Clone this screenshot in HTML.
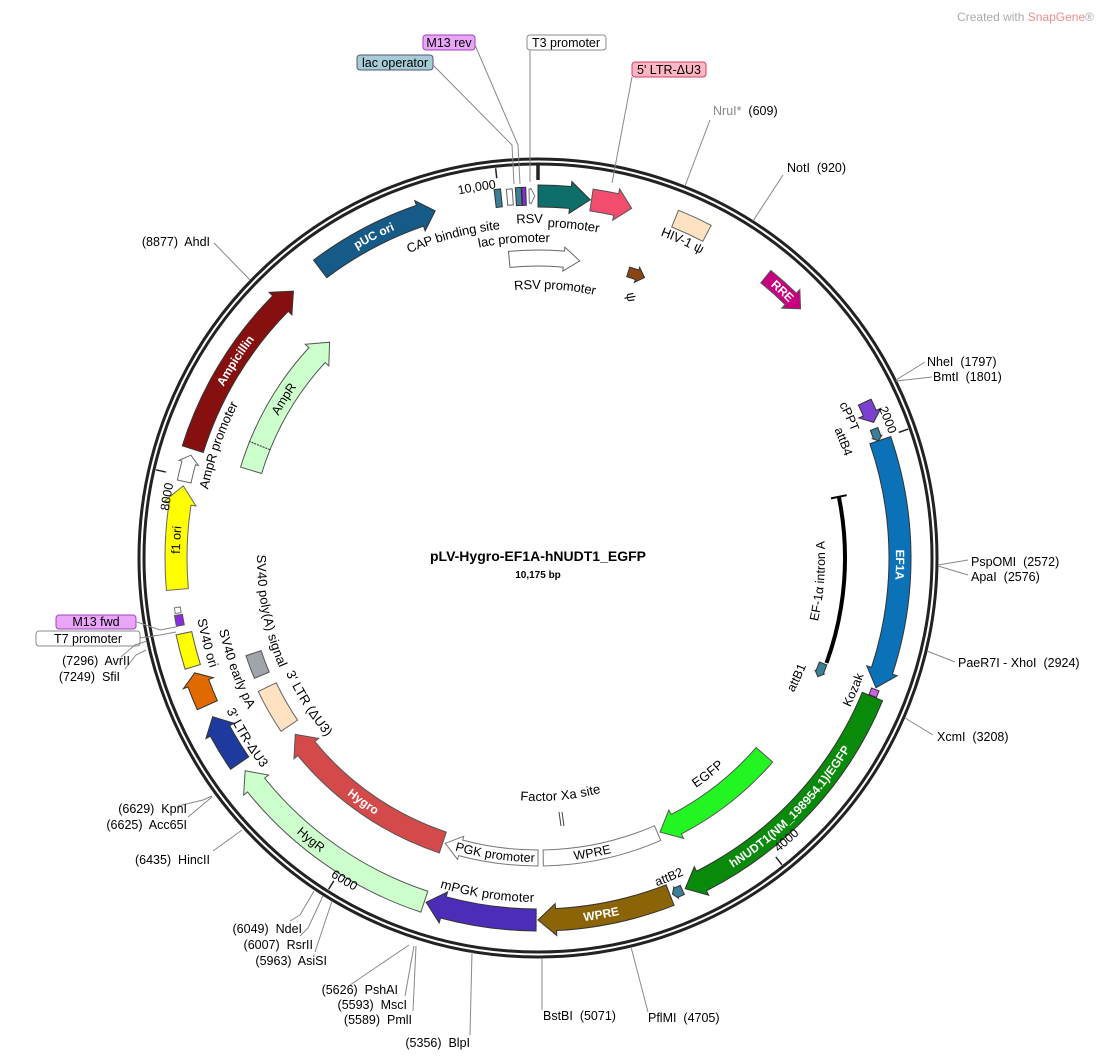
<!DOCTYPE html>
<html><head><meta charset="utf-8"><style>
html,body{margin:0;padding:0;background:#fff;}
svg{display:block;font-family:"Liberation Sans",Arial,sans-serif;}
.e{font-size:12.5px;fill:#000;white-space:pre;}
.f{font-size:13px;fill:#000;}
.w{font-size:12px;fill:#fff;font-weight:bold;}
.ln{stroke:#888;stroke-width:1;fill:none;}
</style></head><body>
<svg id="s" width="1104" height="1062" viewBox="0 0 1104 1062" xmlns="http://www.w3.org/2000/svg">
<defs>
<path id="cw362" d="M538,920 A362,362 0 1 1 538,196 A362,362 0 1 1 538,920"/>
<path id="ccw362" d="M538,196 A362,362 0 1 0 538,920 A362,362 0 1 0 538,196"/>
<path id="cw300" d="M538,858 A300,300 0 1 1 538,258 A300,300 0 1 1 538,858"/>
<path id="ccw300" d="M538,258 A300,300 0 1 0 538,858 A300,300 0 1 0 538,258"/>
<path id="cw336" d="M538,894 A336,336 0 1 1 538,222 A336,336 0 1 1 538,894"/>
<path id="cw321" d="M538,879 A321,321 0 1 1 538,237 A321,321 0 1 1 538,879"/>
<path id="cw340" d="M538,898 A340,340 0 1 1 538,218 A340,340 0 1 1 538,898"/>
<path id="cw350" d="M538,908 A350,350 0 1 1 538,208 A350,350 0 1 1 538,908"/>
<path id="cw274" d="M538,832 A274,274 0 1 1 538,284 A274,274 0 1 1 538,832"/>
<path id="ccw339" d="M538,219 A339,339 0 1 0 538,897 A339,339 0 1 0 538,219"/>
<path id="ccw274" d="M538,284 A274,274 0 1 0 538,832 A274,274 0 1 0 538,284"/>
<path id="cw342" d="M538,900 A342,342 0 1 1 538,216 A342,342 0 1 1 538,900"/>
<path id="ccw238" d="M538,320 A238,238 0 1 0 538,796 A238,238 0 1 0 538,320"/>
<path id="ccw272" d="M538,286 A272,272 0 1 0 538,830 A272,272 0 1 0 538,286"/>
<path id="ccw276" d="M538,282 A276,276 0 1 0 538,834 A276,276 0 1 0 538,282"/>
<path id="ccw341" d="M538,217 A341,341 0 1 0 538,899 A341,341 0 1 0 538,217"/>
<path id="ccw322" d="M538,236 A322,322 0 1 0 538,880 A322,322 0 1 0 538,236"/>
<path id="ccw342" d="M538,216 A342,342 0 1 0 538,900 A342,342 0 1 0 538,216"/>
<path id="cw327" d="M538,885 A327,327 0 1 1 538,231 A327,327 0 1 1 538,885"/>
<path id="ccw285" d="M538,273 A285,285 0 1 0 538,843 A285,285 0 1 0 538,273"/>
<path id="ccw283" d="M538,275 A283,283 0 1 0 538,841 A283,283 0 1 0 538,275"/>
<path id="ccw345" d="M538,213 A345,345 0 1 0 538,903 A345,345 0 1 0 538,213"/>
<path id="cw376" d="M538,934 A376,376 0 1 1 538,182 A376,376 0 1 1 538,934"/>
<path id="ccw376" d="M538,182 A376,376 0 1 0 538,934 A376,376 0 1 0 538,182"/>
</defs>

<g id="shapes"></g>

<circle cx="538" cy="558" r="399" fill="none" stroke="#222" stroke-width="3"/>
<circle cx="538" cy="558" r="394" fill="none" stroke="#222" stroke-width="3"/>

<text x="1094" y="21" text-anchor="end" style="font-size:12px;fill:#aaa">Created with <tspan fill="#f08c8c">SnapGene</tspan>®</text>

<text x="538" y="561" text-anchor="middle" style="font-size:14px;font-weight:bold">pLV-Hygro-EF1A-hNUDT1_EGFP</text>
<text x="538" y="578" text-anchor="middle" style="font-size:10px;font-weight:bold">10,175 bp</text>

<!-- top boxes -->
<rect x="423" y="35" width="52" height="15" rx="3" fill="#e9a6f7" stroke="#a040c0"/>
<text x="449" y="47" text-anchor="middle" class="e">M13 rev</text>
<rect x="527" y="35" width="79" height="15" rx="3" fill="#fff" stroke="#888"/>
<text x="566" y="47" text-anchor="middle" class="e">T3 promoter</text>
<rect x="357" y="55" width="76" height="15" rx="3" fill="#a6ccd6" stroke="#557"/>
<text x="395" y="67" text-anchor="middle" class="e">lac operator</text>
<rect x="632" y="62" width="74" height="15" rx="3" fill="#ffb6c4" stroke="#d04060"/>
<text x="669" y="74" text-anchor="middle" class="e">5' LTR-ΔU3</text>
<polyline class="ln" points="475,45 518,145 520,184"/>
<polyline class="ln" points="433,65 512,145 514,184"/>
<polyline class="ln" points="530,50 530,182"/>
<polyline class="ln" points="632,77 612,183"/>

<rect x="56" y="615" width="80" height="14" rx="3" fill="#e9a6f7" stroke="#a040c0"/>
<text x="96" y="626" text-anchor="middle" class="e">M13 fwd</text>
<rect x="36" y="631" width="104" height="15" rx="3" fill="#fff" stroke="#888"/>
<text x="88" y="643" text-anchor="middle" class="e">T7 promoter</text>
<polyline class="ln" points="137,622 160,630 176,627"/>
<polyline class="ln" points="140,638 160,635 176,632"/>

<!-- enzymes -->
<polyline class="ln" points="685,186 710,120"/>
<text x="713" y="115" class="e"><tspan fill="#888">NruI*</tspan>  (609)</text>
<polyline class="ln" points="753,221 783,175"/>
<text x="787" y="172" class="e">NotI  (920)</text>
<polyline class="ln" points="896,380 925,362"/><polyline class="ln" points="896,381 932,377"/>
<text x="927" y="366" class="e">NheI  (1797)</text>
<text x="933" y="381" class="e">BmtI  (1801)</text>
<polyline class="ln" points="938,565 968,560"/><polyline class="ln" points="938,566 968,575"/>
<text x="971" y="566" class="e">PspOMI  (2572)</text>
<text x="971" y="581" class="e">ApaI  (2576)</text>
<polyline class="ln" points="927,651 955,662"/>
<text x="958" y="667" class="e">PaeR7I - XhoI  (2924)</text>
<polyline class="ln" points="905,718 933,735"/>
<text x="937" y="741" class="e">XcmI  (3208)</text>
<polyline class="ln" points="631,947 648,1012"/>
<text x="648" y="1022" class="e">PflMI  (4705)</text>
<polyline class="ln" points="542,958 542,1010"/>
<text x="543" y="1020" class="e">BstBI  (5071)</text>
<polyline class="ln" points="472,952 470,1035"/>
<text x="470" y="1047" text-anchor="end" class="e">(5356)  BlpI</text>
<polyline class="ln" points="416,946 413,1011"/>
<polyline class="ln" points="414,946 405,996"/>
<polyline class="ln" points="409,945 350,985"/>
<text x="412" y="1024" text-anchor="end" class="e">(5589)  PmlI</text>
<text x="407" y="1009" text-anchor="end" class="e">(5593)  MscI</text>
<text x="398" y="994" text-anchor="end" class="e">(5626)  PshAI</text>
<polyline class="ln" points="332,901 315,952"/>
<polyline class="ln" points="323,896 308,928 300,936"/>
<polyline class="ln" points="314,891 300,915 290,921"/>
<text x="327" y="965" text-anchor="end" class="e">(5963)  AsiSI</text>
<text x="313" y="949" text-anchor="end" class="e">(6007)  RsrII</text>
<text x="302" y="933" text-anchor="end" class="e">(6049)  NdeI</text>
<polyline class="ln" points="242,830 213,851"/>
<text x="210" y="864" text-anchor="end" class="e">(6435)  HincII</text>
<polyline class="ln" points="212,796 203,800 178,806"/><polyline class="ln" points="212,797 188,817"/>
<text x="187" y="813" text-anchor="end" class="e">(6629)  KpnI</text>
<text x="187" y="829" text-anchor="end" class="e">(6625)  Acc65I</text>
<polyline class="ln" points="147,641 135,645 121,657"/><polyline class="ln" points="146,650 136,655 125,669"/>
<text x="130" y="665" text-anchor="end" class="e">(7296)  AvrII</text>
<text x="120" y="681" text-anchor="end" class="e">(7249)  SfiI</text>
<polyline class="ln" points="250,280 214,243"/>
<text x="210" y="246" text-anchor="end" class="e">(8877)  AhdI</text>

<!-- arrow labels -->
<text class="w" dominant-baseline="central"><textPath href="#cw362" startOffset="42.5%" text-anchor="middle">pUC ori</textPath></text>
<text class="w" dominant-baseline="central"><textPath href="#cw362" startOffset="34.2%" text-anchor="middle">Ampicillin</textPath></text>
<text class="e" dominant-baseline="central"><textPath href="#cw362" startOffset="25.8%" text-anchor="middle">f1 ori</textPath></text>
<text class="w" dominant-baseline="central"><textPath href="#cw362" startOffset="75.3%" text-anchor="middle">EF1A</textPath></text>
<text class="w" dominant-baseline="central"><textPath href="#cw362" startOffset="61.8%" text-anchor="middle">RRE</textPath></text>
<text class="w" dominant-baseline="central"><textPath href="#ccw362" startOffset="62.6%" text-anchor="middle">hNUDT1(NM_198954.1)/EGFP</textPath></text>
<text class="w" dominant-baseline="central"><textPath href="#ccw362" startOffset="52.8%" text-anchor="middle">WPRE</textPath></text>
<text class="e" dominant-baseline="central"><textPath href="#ccw362" startOffset="39.2%" text-anchor="middle">HygR</textPath></text>
<text class="e" dominant-baseline="central"><textPath href="#cw300" startOffset="33.9%" text-anchor="middle">AmpR</textPath></text>
<text class="w" dominant-baseline="central"><textPath href="#ccw300" startOffset="40.1%" text-anchor="middle">Hygro</textPath></text>
<text class="e" dominant-baseline="central"><textPath href="#ccw300" startOffset="47.7%" text-anchor="middle">PGK promoter</textPath></text>
<text class="e" dominant-baseline="central"><textPath href="#ccw300" startOffset="52.9%" text-anchor="middle">WPRE</textPath></text>

<!-- outside labels -->
<text class="f" dominant-baseline="central"><textPath href="#cw336" startOffset="45.9%" text-anchor="middle">CAP binding site</textPath></text>
<text class="f" dominant-baseline="central"><textPath href="#cw321" startOffset="48.8%" text-anchor="middle">lac promoter</textPath></text>
<text class="f" dominant-baseline="central"><textPath href="#cw340" startOffset="49.6%" text-anchor="middle">RSV</textPath></text>
<text class="f" dominant-baseline="central"><textPath href="#cw336" startOffset="51.7%" text-anchor="middle">promoter</textPath></text>
<text class="f" dominant-baseline="central"><textPath href="#cw350" startOffset="56.8%" text-anchor="middle">HIV-1  ψ</textPath></text>
<text class="f" dominant-baseline="central"><textPath href="#cw274" startOffset="51%" text-anchor="middle">RSV promoter</textPath></text>
<text x="632" y="302" class="f" text-anchor="middle" transform="rotate(80 632 297)">ψ</text>
<text class="f" dominant-baseline="central"><textPath href="#ccw339" startOffset="47.6%" text-anchor="middle">mPGK promoter</textPath></text>
<text class="f" dominant-baseline="central"><textPath href="#ccw274" startOffset="60.6%" text-anchor="middle">EGFP</textPath></text>
<text class="f" dominant-baseline="central"><textPath href="#cw342" startOffset="30.4%" text-anchor="middle">AmpR promoter</textPath></text>
<text class="f" dominant-baseline="central"><textPath href="#ccw238" startOffset="51.5%" text-anchor="middle">Factor Xa site</textPath></text>
<text class="f" dominant-baseline="central"><textPath href="#ccw272" startOffset="34%" text-anchor="middle">3' LTR (ΔU3)</textPath></text>
<text class="f" dominant-baseline="central"><textPath href="#ccw276" startOffset="28.1%" text-anchor="middle">SV40 poly(A) signal</textPath></text>
<text class="f" dominant-baseline="central"><textPath href="#ccw341" startOffset="29%" text-anchor="middle">SV40 ori</textPath></text>
<text class="f" dominant-baseline="central"><textPath href="#ccw322" startOffset="30.6%" text-anchor="middle">SV40 early pA</textPath></text>
<text class="f" dominant-baseline="central"><textPath href="#ccw342" startOffset="33.8%" text-anchor="middle">3' LTR-ΔU3</textPath></text>
<text class="e" dominant-baseline="central"><textPath href="#cw342" startOffset="68.2%" text-anchor="middle">cPPT</textPath></text>
<text class="e" dominant-baseline="central"><textPath href="#cw327" startOffset="69.2%" text-anchor="middle">attB4</textPath></text>
<text class="e" dominant-baseline="central"><textPath href="#ccw342" startOffset="68.7%" text-anchor="middle">Kozak</textPath></text>
<text class="e" dominant-baseline="central"><textPath href="#ccw285" startOffset="68.1%" text-anchor="middle">attB1</textPath></text>
<text class="e" dominant-baseline="central"><textPath href="#ccw283" startOffset="73.7%" text-anchor="middle">EF-1α intron A</textPath></text>
<text class="e" dominant-baseline="central"><textPath href="#ccw345" startOffset="56.2%" text-anchor="middle">attB2</textPath></text>

<!-- tick labels -->
<text class="e" dominant-baseline="central"><textPath href="#cw376" startOffset="48.2%" text-anchor="end">10,000</textPath></text>
<text class="e" dominant-baseline="central"><textPath href="#cw376" startOffset="69.6%" text-anchor="end">2000</textPath></text>
<text class="e" dominant-baseline="central"><textPath href="#ccw376" startOffset="60.9%" text-anchor="start">4000</textPath></text>
<text class="e" dominant-baseline="central"><textPath href="#ccw376" startOffset="40.8%" text-anchor="start">6000</textPath></text>
<text class="e" dominant-baseline="central"><textPath href="#cw376" startOffset="28.2%" text-anchor="end">8000</textPath></text>

<script>
(function(){
const cx=538,cy=558,NS="http://www.w3.org/2000/svg";
const g=document.getElementById("shapes");
function P(a,r){const t=a*Math.PI/180;return (cx+r*Math.sin(t)).toFixed(2)+","+(cy-r*Math.cos(t)).toFixed(2);}
function arc(a1,a2,r){const p=P(a2,r);const l=Math.abs(a2-a1)>180?1:0;const s=a2>a1?1:0;return "A"+r+","+r+" 0 "+l+" "+s+" "+p;}
function add(tag,at){const e=document.createElementNS(NS,tag);for(const k in at)e.setAttribute(k,at[k]);g.appendChild(e);return e;}
function feat(a1,a2,r,w,dir,fill,stroke,hl,ex){
 hl=hl||16;ex=(ex===undefined)?5:ex;const h=hl/r*180/Math.PI,ro=r+w/2,ri=r-w/2;let d;
 if(dir===1){const b=Math.max(a1,a2-h);
  d="M"+P(a1,ro)+" "+arc(a1,b,ro)+" L"+P(b,ro+ex)+" L"+P(a2,r)+" L"+P(b,ri-ex)+" L"+P(b,ri)+" "+arc(b,a1,ri)+" Z";}
 else{d="M"+P(a1,ro)+" "+arc(a1,a2,ro)+" L"+P(a2,ri)+" "+arc(a2,a1,ri)+" Z";}
 add("path",{d:d,fill:fill,stroke:stroke||"#555","stroke-width":1});
}
[[353.8,382,392,1.5],[70.8,382,392,1.5],[141.5,382,392,1.5],[212.3,382,392,1.5],[283,382,392,1.5],[0,378,393,3.5]].forEach(t=>{
 add("path",{d:"M"+P(t[0],t[1])+" L"+P(t[0],t[2]),stroke:"#222","stroke-width":t[3]});});
const R=362,W=22;
feat(-37,-16.5,R,W,1,"#165a88","#333");
feat(-6.8,-5.8,R,18,0,"#3a7f96","#333");
feat(-4.9,-4.0,R,16,0,"#fff","#666");
feat(-3.5,-2.6,R,18,0,"#3a7f96","#333");
feat(-2.5,-1.9,R,18,0,"#8a2be2","#333");
feat(-1.4,-0.5,R,14,1,"#fff","#777",4,1);
feat(0,8.3,R,W,1,"#0e6e6a","#333",20);
feat(8.5,15,R,W,1,"#f24d6c","#555",16);
feat(22,27.5,R+4,18,0,"#ffe2c2","#666");
feat(39,46.5,R,16,1,"#c8007f","#555",14);
feat(64.5,68,R,14,1,"#7a40d0","#333",10);
feat(69,71,R-2,8,1,"#3a7f96","#333",4,1);
feat(71,111,R,W,1,"#0b72b8","#333",18);
feat(111.3,112.4,R,8,0,"#d060e0","#333");
feat(112.5,156,R,W,1,"#0a8a0a","#333",18);
feat(156.5,158.2,R,10,1,"#3a7f96","#333",4,1);
feat(158.6,180,R,W,1,"#8b6408","#333",18);
feat(180.3,198,R,W,1,"#4b2db8","#333",18);
feat(198.3,234,R,W,1,"#ccffcc","#555",18);
feat(235.5,244,R,W,1,"#1f3a9e","#333",16);
feat(246,251.5,R,W,1,"#e06a00","#333",11);
feat(252.5,258,R,16,0,"#ffff00","#555");
feat(259.3,261,R+2,8,0,"#8a2be2","#555");
feat(261.3,262.2,R+2,6,0,"#fff","#777");
feat(265,281.5,R,W,1,"#ffff00","#666",18);
feat(282.2,286.5,R,14,1,"#fff","#666",8,3);
feat(287.5,317.5,R,W,1,"#861010","#333",18);
const Q=300;
feat(287,316,Q,W,1,"#ccffcc","#555",18);
add("path",{d:"M"+P(292,Q-11)+" L"+P(292,Q+11),stroke:"#333","stroke-width":1,"stroke-dasharray":"2,1"});
feat(-5.5,8,Q,16,1,"#fff","#666",16,4);
feat(17.5,20.8,Q,10,1,"#8b4513","#333",8,3);
feat(131,156,Q,W,1,"#22f522","#555",18);
feat(156.5,179,Q,16,0,"#fff","#777");
feat(180,198,Q,16,1,"#fff","#777",16,4);
feat(198.5,234,Q,W,1,"#d44a4a","#555",18);
feat(236,244.5,Q,20,0,"#ffe2c2","#666");
feat(247,251.5,Q,16,0,"#a0a4ab","#555");
add("path",{d:"M"+P(78.5,307)+" "+arc(78.5,110,307),fill:"none",stroke:"#000","stroke-width":4});
add("path",{d:"M"+P(78.5,299)+" L"+P(78.5,315),stroke:"#000","stroke-width":2});
feat(110.3,113,304,8,1,"#3a7f96","#333",5,1);
add("path",{d:"M559,812 L561,826 M562,812 L564,826",stroke:"#444","stroke-width":1});
})();
</script>
</svg>
</body></html>
